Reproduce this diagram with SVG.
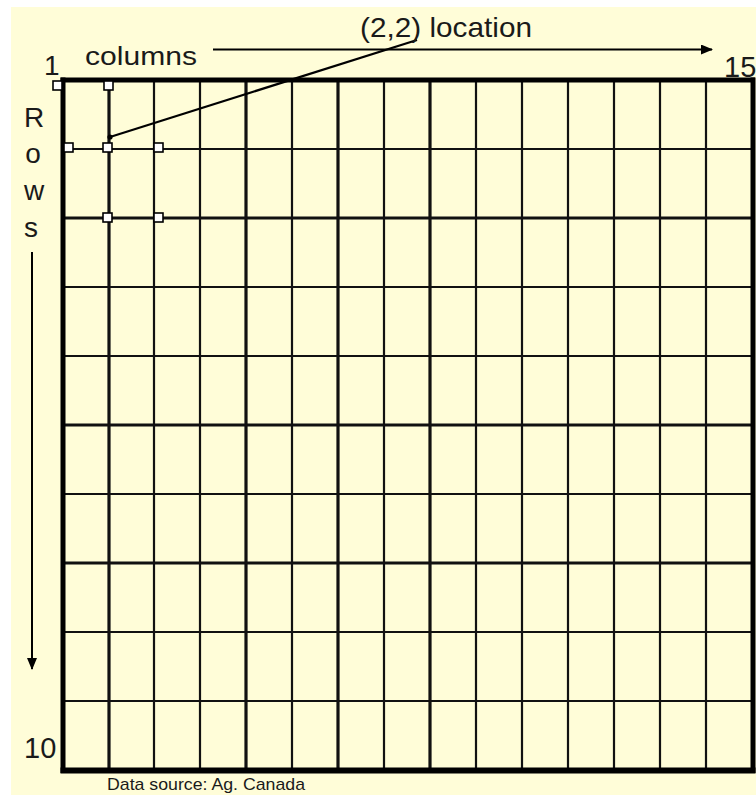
<svg xmlns="http://www.w3.org/2000/svg" width="756" height="795" viewBox="0 0 756 795">
<defs>
<style>
.lbl{font-family:"Liberation Sans",Arial,sans-serif;fill:#1a1a1a}
.g2{stroke:#111;stroke-width:2.2}
.g3{stroke:#111;stroke-width:3.2}
.edge{stroke:#000;stroke-width:5}
.h{fill:#fff;stroke:#000;stroke-width:1.6}
</style>
<marker id="ah" markerWidth="12" markerHeight="10" refX="11" refY="5" orient="auto" markerUnits="userSpaceOnUse">
<path d="M0,0 L12,5 L0,10 Z" fill="#000"/>
</marker>
</defs>
<rect x="0" y="0" width="756" height="795" fill="#fff"/>
<rect x="11" y="7" width="745" height="788" fill="#FFFDD8"/>
<g id="grid">
<g id="verticals">
<line class="g3" x1="109" y1="80" x2="109" y2="770"/>
<line class="g2" x1="154" y1="80" x2="154" y2="770"/>
<line class="g2" x1="200" y1="80" x2="200" y2="770"/>
<line class="g3" x1="246" y1="80" x2="246" y2="770"/>
<line class="g2" x1="292" y1="80" x2="292" y2="770"/>
<line class="g3" x1="338" y1="80" x2="338" y2="770"/>
<line class="g2" x1="384" y1="80" x2="384" y2="770"/>
<line class="g3" x1="430" y1="80" x2="430" y2="770"/>
<line class="g2" x1="476" y1="80" x2="476" y2="770"/>
<line class="g2" x1="522" y1="80" x2="522" y2="770"/>
<line class="g2" x1="568" y1="80" x2="568" y2="770"/>
<line class="g2" x1="614" y1="80" x2="614" y2="770"/>
<line class="g2" x1="660" y1="80" x2="660" y2="770"/>
<line class="g2" x1="706" y1="80" x2="706" y2="770"/>
</g>
<g id="horizontals">
<line class="g2" x1="63" y1="149" x2="752" y2="149"/>
<line class="g3" x1="63" y1="218" x2="752" y2="218"/>
<line class="g2" x1="63" y1="287" x2="752" y2="287"/>
<line class="g2" x1="63" y1="356" x2="752" y2="356"/>
<line class="g3" x1="63" y1="425" x2="752" y2="425"/>
<line class="g2" x1="63" y1="494" x2="752" y2="494"/>
<line class="g3" x1="63" y1="563" x2="752" y2="563"/>
<line class="g2" x1="63" y1="632" x2="752" y2="632"/>
<line class="g2" x1="63" y1="701" x2="752" y2="701"/>
</g>
<g id="border">
<line class="edge" x1="60.5" y1="80" x2="755" y2="80"/>
<line class="edge" x1="63" y1="77.5" x2="63" y2="773"/>
<line class="edge" x1="753" y1="77.5" x2="753" y2="773"/>
<line class="edge" x1="60.5" y1="770.5" x2="755.5" y2="770.5" style="stroke-width:6"/>
</g>
</g>
<g id="connectors">
<line x1="213" y1="49.5" x2="712" y2="49.5" stroke="#000" stroke-width="2" marker-end="url(#ah)"/>
<line x1="32" y1="252" x2="32" y2="669" stroke="#000" stroke-width="2" marker-end="url(#ah)"/>
<line x1="417" y1="40" x2="110" y2="137" stroke="#000" stroke-width="2.2"/>
<circle cx="110" cy="137" r="2.6" fill="#000"/>
</g>
<g id="handles">
<rect class="h" x="53" y="81" width="9" height="9"/>
<rect class="h" x="104" y="81" width="9" height="9"/>
<rect class="h" x="64" y="143" width="9" height="9"/>
<rect class="h" x="103" y="143" width="9" height="9"/>
<rect class="h" x="154" y="143" width="9" height="9"/>
<rect class="h" x="103" y="213" width="9" height="9"/>
<rect class="h" x="154" y="213" width="9" height="9"/>
</g>
<g id="labels">
<text class="lbl" x="85" y="65" font-size="26" textLength="112" lengthAdjust="spacingAndGlyphs">columns</text>
<text class="lbl" x="360" y="37" font-size="28" textLength="172" lengthAdjust="spacingAndGlyphs">(2,2) location</text>
<text class="lbl" x="44" y="75" font-size="28">1</text>
<text class="lbl" x="724" y="77" font-size="29">15</text>
<text class="lbl" x="24" y="758" font-size="29">10</text>
<text class="lbl" x="34" y="127" font-size="28" text-anchor="middle">R</text>
<text class="lbl" x="33" y="163" font-size="28" text-anchor="middle">o</text>
<text class="lbl" x="34" y="200" font-size="28" text-anchor="middle">w</text>
<text class="lbl" x="31" y="237" font-size="28" text-anchor="middle">s</text>
<text class="lbl" x="107" y="790" font-size="17" textLength="198" lengthAdjust="spacingAndGlyphs">Data source: Ag. Canada</text>
</g>
</svg>
